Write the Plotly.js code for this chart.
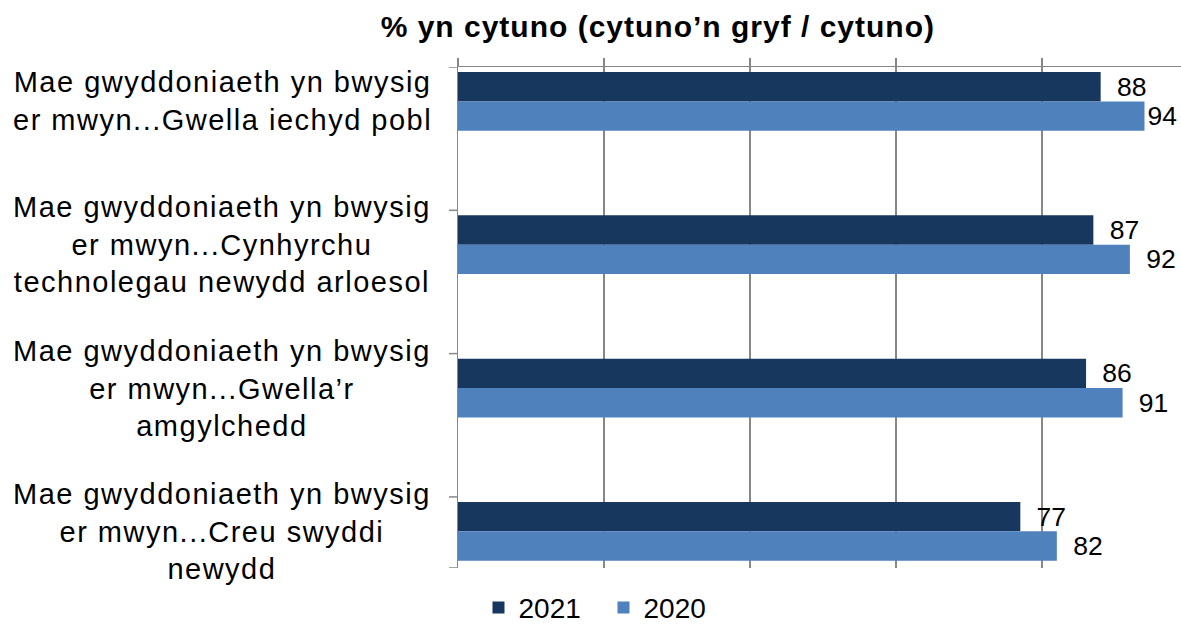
<!DOCTYPE html>
<html>
<head>
<meta charset="utf-8">
<script src="https://cdn.plot.ly/plotly-3.0.1.min.js"></script>
<style>
html,body{margin:0;padding:0;background:#fff;overflow:hidden}
.annotation-text{letter-spacing:1.5px}
.gtitle{letter-spacing:1px}
</style>
</head>
<body>
<div id="chart" style="width:1181px;height:624px"></div>
<script>
const categories = [
  "Mae gwyddoniaeth yn bwysig<br>er mwyn...Gwella iechyd pobl",
  "Mae gwyddoniaeth yn bwysig<br>er mwyn...Cynhyrchu<br>technolegau newydd arloesol",
  "Mae gwyddoniaeth yn bwysig<br>er mwyn...Gwella’r<br>amgylchedd",
  "Mae gwyddoniaeth yn bwysig<br>er mwyn...Creu swyddi<br>newydd"
];
const catKeys = ["c1", "c2", "c3", "c4"];
const seriesNames = ["2021", "2020"];
const values2021 = [88, 87, 86, 77];
const values2020 = [94, 92, 91, 82];
const titleText = "% yn cytuno (cytuno’n gryf / cytuno)";

const FONT = "Liberation Sans, Arial, sans-serif";
const GRID = "#878787";
const XMAX = 99;

// labels get a small gap from the bar end unless they would run past the plot edge
const lbl = v => (v < XMAX - 5 ? "\u2002" : "") + v;

const traces = [
  {type: "bar", orientation: "h", name: seriesNames[0], y: catKeys, x: values2021,
   marker: {color: "#17375E"}, text: values2021.map(lbl), textposition: "outside",
   cliponaxis: false, textfont: {family: FONT, size: 28, color: "#000"}},
  {type: "bar", orientation: "h", name: seriesNames[1], y: catKeys, x: values2020,
   marker: {color: "#4F81BD"}, text: values2020.map(lbl), textposition: "outside",
   cliponaxis: false, textfont: {family: FONT, size: 28, color: "#000"}}
];

const tickYs = [-0.24, 0.76, 1.76, 2.76, 3.256];
const shapes = tickYs.map(v => ({type: "line", xref: "paper", yref: "y", x0: -0.0125, x1: 0, y0: v, y1: v,
  line: {color: GRID, width: 1.5}}));

const annotations = categories.map((c, i) => ({
  xref: "paper", yref: "y", x: -0.326, y: catKeys[i], xanchor: "center", yanchor: "middle",
  text: c, showarrow: false, align: "center",
  font: {family: FONT, size: 29, color: "#000"}
}));

const layout = {
  width: 1181, height: 624,
  margin: {l: 458, r: 0, t: 67, b: 56, pad: 0},
  paper_bgcolor: "#fff", plot_bgcolor: "#fff",
  title: {text: "<b>" + titleText + "</b>", x: 0.557, xanchor: "center", y: 0.957, yanchor: "middle",
          font: {family: FONT, size: 30, color: "#000"}},
  barmode: "group", bargap: 0.59, bargroupgap: 0,
  xaxis: {side: "top", range: [0, XMAX], dtick: 20, tick0: 0, showticklabels: false,
          ticks: "outside", ticklen: 8, tickcolor: GRID, tickwidth: 1.5,
          showline: true, linecolor: GRID, linewidth: 1.5,
          showgrid: true, gridcolor: GRID, gridwidth: 1.5, zeroline: false, fixedrange: true},
  yaxis: {type: "category", range: [3.256, -0.24], autorange: false, showticklabels: false,
          ticks: "", showline: true, linecolor: GRID, linewidth: 1.5, showgrid: false, fixedrange: true},
  showlegend: true,
  legend: {orientation: "h", xref: "container", x: 0.511, xanchor: "center",
           yref: "container", y: 0.026, yanchor: "middle",
           font: {family: FONT, size: 28, color: "#000"}, traceorder: "normal", itemwidth: 30,
           entrywidth: 80, entrywidthmode: "pixels"},
  shapes: shapes,
  annotations: annotations
};

Plotly.newPlot("chart", traces, layout, {displayModeBar: false, staticPlot: true});
</script>
</body>
</html>
